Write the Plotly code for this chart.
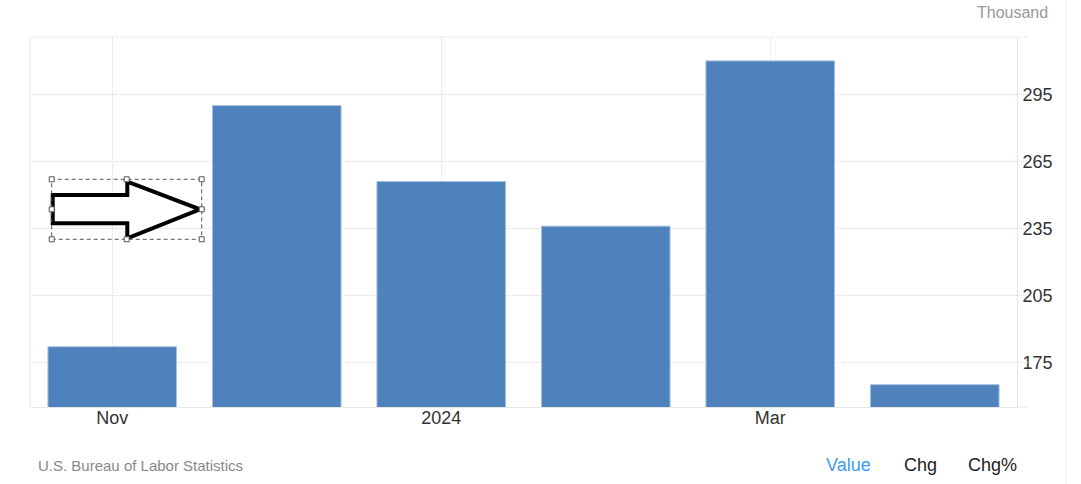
import plotly.graph_objects as go

# ---- data ----
months = ["Nov 2023", "Dec 2023", "Jan 2024", "Feb 2024", "Mar 2024", "Apr 2024"]
values = [182, 290, 256, 236, 310, 165]
x_tick_vals = ["Nov 2023", "Jan 2024", "Mar 2024"]
x_tick_text = ["Nov", "2024", "Mar"]
y_ticks = [175, 205, 235, 265, 295]
y_range = [155, 320.7]

W, H = 1081, 484
PLOT_L, PLOT_R, PLOT_T, PLOT_B = 30, 1017, 37, 407
L, T = PLOT_L, PLOT_T
R, B = W - PLOT_R, H - PLOT_B
PW, PH = W - L - R, H - T - B

def px(x):
    return (x - PLOT_L) / PW

def py(y):
    return (PLOT_B - y) / PH

FONT = "Liberation Sans, Arial, sans-serif"
GRID = "#dcdcdc"
DOT = "1px,1px"

fig = go.Figure()
fig.add_trace(go.Bar(
    x=months, y=values,
    marker=dict(color="#4f81bd", line=dict(color="#a9c1e0", width=1)),
    hoverinfo="x+y",
))

shapes = []
shapes.append(dict(type="line", xref="paper", yref="paper", x0=0, x1=0, y0=0, y1=1,
                   line=dict(color="#e6e6e6", width=1)))
shapes.append(dict(type="line", xref="paper", yref="paper", x0=0, x1=px(1028), y0=1, y1=1,
                   line=dict(color=GRID, width=1, dash=DOT)))
shapes.append(dict(type="line", xref="paper", yref="paper", x0=1, x1=px(1028), y0=0, y1=0,
                   line=dict(color="#e6e6e6", width=1)))
for v in y_ticks:
    shapes.append(dict(type="line", xref="paper", yref="y", x0=1, x1=px(1028), y0=v, y1=v,
                       line=dict(color=GRID, width=1, dash=DOT)))
shapes.append(dict(type="line", xref="paper", yref="paper", x0=px(1066), x1=px(1066),
                   y0=py(H), y1=py(0), line=dict(color="#eeeeee", width=1)))

arrow_pts = [(52.7, 195), (127.3, 195), (127.3, 181.7), (200, 209.3),
             (127.3, 238.3), (127.3, 223.3), (52.7, 223.3)]
path = "M " + " L ".join(f"{px(a):.5f},{py(b):.5f}" for a, b in arrow_pts) + " Z"
shapes.append(dict(type="path", xref="paper", yref="paper", path=path,
                   fillcolor="white", line=dict(color="black", width=4)))
bx0, by0, bx1, by1 = 51.7, 179.3, 201.7, 239.3
shapes.append(dict(type="rect", xref="paper", yref="paper",
                   x0=px(bx0), x1=px(bx1), y0=py(by1), y1=py(by0),
                   line=dict(color="#555555", width=1, dash="4px,3px")))
bxm, bym = 126.7, 209.3
for hx, hy in [(bx0, by0), (bxm, by0), (bx1, by0), (bx0, bym), (bx1, bym),
               (bx0, by1), (bxm, by1), (bx1, by1)]:
    shapes.append(dict(type="rect", xref="paper", yref="paper",
                       x0=px(hx - 2.5), x1=px(hx + 2.5), y0=py(hy + 2.5), y1=py(hy - 2.5),
                       fillcolor="white", line=dict(color="#555555", width=1)))

annotations = [
    dict(text="Thousand", xref="paper", yref="paper", x=px(1049.5), y=py(12.7),
         xanchor="right", yanchor="middle", showarrow=False,
         font=dict(family=FONT, size=16, color="#999999")),
    dict(text="U.S. Bureau of Labor Statistics", xref="paper", yref="paper",
         x=px(36), y=py(465), xanchor="left", yanchor="middle", showarrow=False,
         font=dict(family=FONT, size=15, color="#888888")),
    dict(text="Value", xref="paper", yref="paper", x=px(848), y=py(465),
         xanchor="center", yanchor="middle", showarrow=False,
         font=dict(family=FONT, size=18, color="#3d9bf0")),
    dict(text="Chg", xref="paper", yref="paper", x=px(920), y=py(465),
         xanchor="center", yanchor="middle", showarrow=False,
         font=dict(family=FONT, size=18, color="#222222")),
    dict(text="Chg%", xref="paper", yref="paper", x=px(992.5), y=py(465),
         xanchor="center", yanchor="middle", showarrow=False,
         font=dict(family=FONT, size=18, color="#222222")),
]

fig.update_layout(
    width=W, height=H,
    margin=dict(l=L, r=R, t=T, b=B, pad=0),
    paper_bgcolor="white", plot_bgcolor="white",
    bargap=0.218,
    showlegend=False,
    shapes=shapes,
    annotations=annotations,
    font=dict(family=FONT, size=18, color="#333333"),
    xaxis=dict(
        type="category", categoryorder="array", categoryarray=months,
        tickvals=x_tick_vals, ticktext=x_tick_text,
        showgrid=True, gridcolor=GRID, griddash=DOT, gridwidth=1,
        showline=True, linecolor="#e6e6e6", linewidth=1,
        ticks="", ticklabelstandoff=-6,
        tickfont=dict(family=FONT, size=18, color="#333333"),
        zeroline=False, fixedrange=True,
    ),
    yaxis=dict(
        side="right", range=y_range, tickvals=y_ticks,
        showgrid=True, gridcolor=GRID, griddash=DOT, gridwidth=1,
        showline=True, linecolor="#e6e6e6", linewidth=1,
        ticks="", ticklabelstandoff=1,
        tickfont=dict(family=FONT, size=18, color="#333333"),
        zeroline=False, fixedrange=True,
    ),
)

fig.write_html(
    "out.html",
    config={"displayModeBar": False, "staticPlot": True},
    post_script="document.body.style.margin='0';document.body.style.overflow='hidden';",
)
